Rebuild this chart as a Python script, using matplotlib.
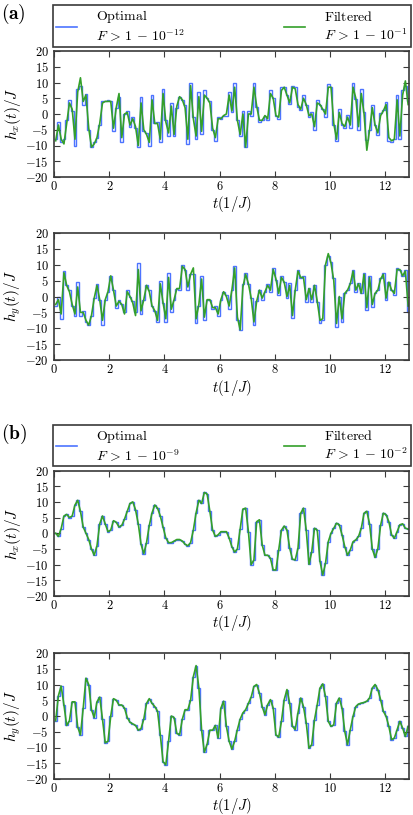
import numpy as np
import matplotlib
matplotlib.use("Agg")
import matplotlib.pyplot as plt
from matplotlib.lines import Line2D
from matplotlib.ticker import FuncFormatter, MultipleLocator

plt.rcParams['mathtext.fontset'] = 'cm'
plt.rcParams['font.family'] = ['DejaVu Serif']

dt = 0.1  # length of one control step, 1/J

# (a) optimal piecewise-constant controls and their filtered versions
hx_a = [-8, -2.5, -9, -8, -2, 4.5, 1, -10, 8, 9, 3, 6.5, -5, -10.5, -9, -7.5, -3.5, 4, 4, 4.3,
        4, -5.5, 2, 5.5, -9, 0, 1, -4, -1, -4.5, -10.5, 5.5, -5.5, -6, -10, 6, -3, -2.5, -9, 8,
        -2, -7, 3.5, -7, 2, 5.5, 4.5, 3, -9.5, 10, -1, -8, 7, -6.5, 7.5, 5, 4, -5, -8.5, -1,
        -1.5, -0.5, -0.5, 7, 0.5, 10, -2, -7, 1, -10.5, 1, -0.5, 10, 2.3, -2.5, -2, -0.5, -2, 7.5, 5,
        -0.5, -1.5, 8.5, 8.5, 6, 3.3, 9, 8.5, 2.3, 1.2, 6, 2.8, -0.9, 0.7, -5, 4.4, 2.8, 1.7, -0.9, 9.5,
        8.5, -3.5, -8.5, 1.7, -3.6, -4.6, -0.4, -4.3, 9.7, 4.9, -5, 8, 0.7, -8.3, -5, 2.8, -3.6, -6.7, 0.2, 1.2,
        3.9, -8.5, -8.9, -7.8, 6, -8, 7.5, 9, 4]
hx_a_filt = [-8.5, -3.5, -8, -9.5, -3, 3.5, 1.5, -8, 7, 11.5, 4, 6, -4.5, -10.5, -9.5, -7.5, -3, 3.5, 4, 4,
             4, -4.5, 2, 6.5, -7.5, 0, 0.5, -3.5, -1.5, -4, -10, 3.5, -5, -6.5, -9, 4.5, -3, -3, -8, 6.5,
             -2.5, -6, 2.5, -6.5, 2.5, 5.5, 4.5, 2, -8, 9, -1.5, -7, 5.5, -5.5, 6, 5, 3.5, -4.5, -7.5, -1.5,
             -1.5, -0.5, 0, 6, 1, 8.5, -2, -6.5, 0, -10.5, 0, 0, 8.5, 2.5, -2, -2, -0.5, -1.5, 6.5, 5,
             -0.5, -1, 7.5, 8.5, 6, 3.5, 8.5, 8, 3, 1.5, 5, 3, -0.5, 0, -4, 3.5, 3, 1.5, 0, 8.5,
             8.5, -3, -8, 0.5, -3, -4, -1, -3.5, 8.5, 5, -4, 6.5, 0, -11.5, -5, 2, -3.5, -6, -0.5, 1,
             3, -7.5, -8.5, -8, 4.5, -7, 6, 10.5, 3]
hy_a = [-3, 0, -7, 8, 3.5, 2, -3, -6, 4.5, -6, -4.5, -8, -9, -6, -0.5, 4, -1, -9, -1, 1.5,
        6.5, 2, -3.5, -1, -2.5, -5, 2, 0, -1.5, -5, 10.5, -5.5, -1, 3.5, 2, -3, -4.5, -8, 5, -2,
        -8, 7.5, -5, -1, 2.5, 2, 10, 8.5, 2, 7, 7, -8.5, -3, 6.5, -7.5, -1, -1, -4, -3, -6,
        -1, 1.5, 0.5, -4, 2, 9.5, -7.5, -10.5, 4, 7.5, 4, -0.5, -9, -1.5, 2, -1, 1.5, 4, 1.5, 9,
        5.3, 0.5, 6.3, 4.7, -0.5, 4.2, -6.8, 2, 8.4, 5.8, 6.3, -1.6, 2.6, -1.6, 3.7, -1.6, -8.4, -7.4, 10, 12.6,
        11, 5.8, -9.5, 0, -7.9, 1, 2, 4.2, 8.4, 1.5, 4.2, 1, 7.4, -4.2, 6.3, -3.2, 1, 2, 5.8, 7.4,
        -1, 4.7, 2, 0.5, 8.9, 8.4, 6.3, 8.4, -5]
hy_a_filt = [-2.5, -1, -5.5, 7.5, 3.5, 1.5, -2.5, -5.5, 3, -5, -5, -7.5, -9, -6, -0.5, 3.5, -1, -7.5, -1, 1.5,
             6.5, 2, -3, -1.5, -2.5, -5.5, 1.5, 0, -2, -6, 8.5, -4.5, -1, 3.5, 1.5, -3, -4.5, -7.5, 4, -2,
             -7, 6, -4, -1, 2.5, 2.5, 9.5, 8.5, 3, 7, 9, -7, -2.5, 5.5, -6.5, -1, -1, -3.5, -3.5, -5.5,
             -1, 1.5, 0, -3, 2, 9, -6.5, -10.5, 3, 7, 4, -0.5, -8, -1.5, 2, -0.5, 1.5, 3.5, 2, 8.5,
             5.5, 1, 6, 4.5, 0, 3.5, -6, 2, 8, 6, 6, -1, 2.5, -1, 3.5, -1.5, -7.5, -7, 10, 13.5,
             10.5, 5, -8.5, 0, -7, 1, 2, 4, 8, 2, 4, 1, 7, -3.5, 6, -2.5, 1, 2, 5.5, 7,
             -0.5, 4.5, 2, 1, 8.5, 8.5, 6.5, 8, -3]

# (b) smoother optimal controls; the filtered curves lie on top of them
hx_b = [0, -1, 1.5, 5.5, 6, 5, 5.5, 9, 10.5, 7, 2, 0, -2, -5, -7, -4, 3, 5.5, 3, 0.5,
        1, 4, 3.5, 2, 2.5, 4.5, 7, 9.5, 10, 7.5, 3, -3.5, -6.5, -3, 2.5, 6.5, 9, 8, 5.5, 2,
        -1.5, -3, -3, -2.5, -2, -2, -2.5, -3.5, -4, -3, 1, 6.5, 10.5, 9.5, 13, 12.5, 7, 1, -1, -0.5,
        0.5, 0.5, 0.5, -1.5, -4.3, -6, -5, 1.3, 7.7, 8, 0.5, -10, -8.5, 3.7, 4.3, -3.7, -7, -7, -8, -11.7,
        -11.7, -5.3, 1, 2.3, 1, -4.8, -8.3, -8.5, -4.8, 6.4, 8, 1, -9.9, -5.9, 1.6, 1, -9, -13.3, -9.6, -2.7,
        0, 1.6, 3.2, 2.7, -0.5, -4.3, -7, -5.3, -2.7, -2.1, -1, 1.6, 6.4, 7, 3, -5, -7.7, -5, 2.5, 6.4,
        5.9, 3.7, -0.5, -1.6, 0.5, 2.7, 3, 1.6, 1.3]
hy_b = [-1.5, 6.5, 9.5, 3.5, -3, -1.5, 4.5, 4.5, -3.5, -6, 2.5, 12, 10, 2, -0.5, 4.5, 6, -1, -8.5, -8,
        0, 5.5, 5, 3.5, 3.5, 2.5, -0.5, -2, -2.5, -3, -4.5, -4, -1, 4, 5.5, 4, 3, 1.5, -6, -14.5,
        -15.5, -8, 0, -0.5, -5.5, -6, -1, 2, 2, 5, 12.5, 16, 9, -4.5, -11.5, -9, -4.5, -4.5, -3, -7,
        2.5, 4.7, -3.3, -8, -10.5, -8, -4.3, -1, 1, 2, 4, 6, 9.4, 10, 7.3, 3, 0.4, 3.6, 5.2, 2.5,
        -6, -6.7, -1.7, 5.2, 8.4, 4, -3.3, -4.3, 1, 5.7, 3, -2.2, -10.2, -9.1, -1.2, 3.6, 8.9, 10.2, 6.2, -1.7,
        -3.3, -2.8, 4.1, 5.7, 2.5, -4.9, -9.1, -4.3, -0.1, 3, 3.8, 4.1, 4.3, 4.7, 5.7, 8.9, 10, 8.4, 5.2, 1.5,
        -0.1, -3.3, -7.5, -7, -4.3, -1.7, -3.8, -6.5, -3.3]

fid_labels_a = [r"$F \,>\, 1 \,-\, 10^{-12}$", r"$F \,>\, 1 \,-\, 10^{-1}$"]
fid_labels_b = [r"$F \,>\, 1 \,-\, 10^{-9}$", r"$F \,>\, 1 \,-\, 10^{-2}$"]

BLUE = '#4d74ff'
GREEN = '#34a02a'
FRAME = '#3a3a3a'

W, H = 413, 815
fig = plt.figure(figsize=(W / 100, H / 100), dpi=100)

def axes_px(top, bottom, left=54.3, right=409.5):
    return fig.add_axes([left / W, 1 - bottom / H, (right - left) / W, (bottom - top) / H])

tick_fmt = FuncFormatter(lambda v, p: r"$%g$" % v)

def panel(ax, blue, green, ylabel):
    edges = np.arange(len(blue) + 1) * dt
    mids = edges[:-1] + dt / 2
    ax.stairs(blue, edges, baseline=None, color=BLUE, lw=1.0)
    ax.plot(mids, green, color=GREEN, lw=1.2)
    ax.set_xlim(0, 12.9)
    ax.set_ylim(-20, 20)
    ax.xaxis.set_major_locator(MultipleLocator(2))
    ax.yaxis.set_major_locator(MultipleLocator(5))
    ax.xaxis.set_major_formatter(tick_fmt)
    ax.yaxis.set_major_formatter(tick_fmt)
    ax.tick_params(direction='in', top=True, right=True, length=4, width=0.8,
                   labelsize=9, pad=4, color=FRAME)
    ax.tick_params(axis='x', pad=2.5)
    for s in ax.spines.values():
        s.set_linewidth(1.2)
        s.set_color(FRAME)
    ax.set_ylabel(ylabel, fontsize=11)
    ax.yaxis.set_label_coords(-0.088, 0.5)
    ax.set_xlabel(r"$t(1/J)$", fontsize=10.5)
    ax.xaxis.set_label_coords(0.5, -0.138)

def legend(ax, fids):
    handles = [Line2D([], [], color=BLUE, lw=1.2), Line2D([], [], color=GREEN, lw=1.2)]
    labels = [r"$\mathrm{Optimal}$" + "\n" + fids[0], r"$\mathrm{Filtered}$" + "\n" + fids[1]]
    leg = ax.legend(handles, labels, loc='lower left', bbox_to_anchor=(-0.003, 1.032, 1.006, 0.3),
                    mode='expand', ncol=2, borderaxespad=0, fancybox=False, framealpha=1,
                    edgecolor=FRAME, fontsize=10, handlelength=1.5, handletextpad=1.4,
                    borderpad=0.2, labelspacing=0.3)
    leg.get_frame().set_linewidth(1.2)

ax1 = axes_px(51, 177)
panel(ax1, hx_a, hx_a_filt, r"$h_x(t)/J$")
legend(ax1, fid_labels_a)
ax2 = axes_px(233, 360)
panel(ax2, hy_a, hy_a_filt, r"$h_y(t)/J$")

ax3 = axes_px(470.5, 596)
panel(ax3, hx_b, hx_b, r"$h_x(t)/J$")
legend(ax3, fid_labels_b)
ax4 = axes_px(653, 779)
panel(ax4, hy_b, hy_b, r"$h_y(t)/J$")

fig.text(1 / W, 1 - 2 / H, r"$\mathbf{(a)}$", fontsize=14, va='top', ha='left')
fig.text(1 / W, 1 - 422 / H, r"$\mathbf{(b)}$", fontsize=14, va='top', ha='left')

fig.savefig("out.png", dpi=100)
